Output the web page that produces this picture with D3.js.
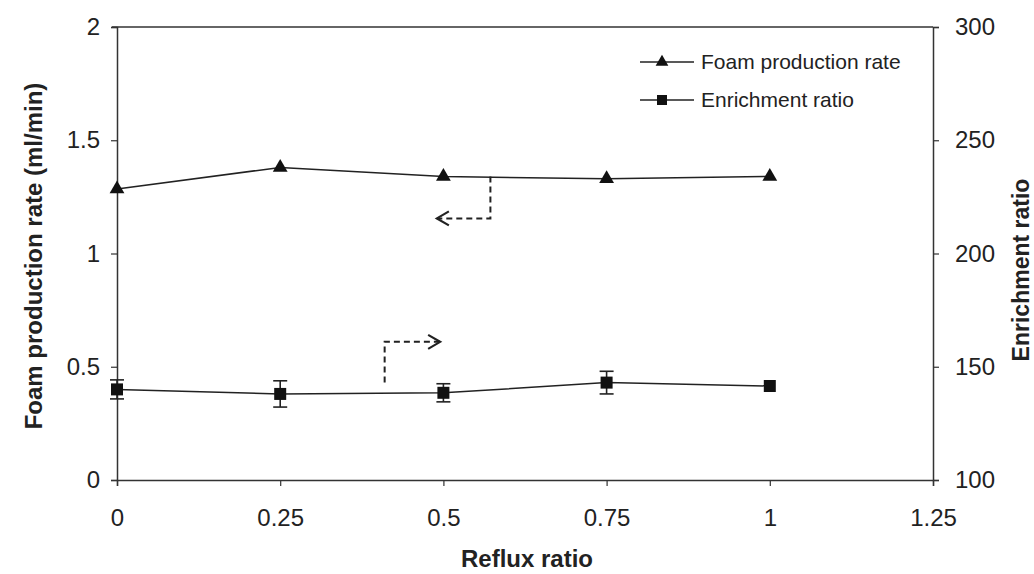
<!DOCTYPE html>
<html>
<head>
<meta charset="utf-8">
<script src="https://cdn.jsdelivr.net/npm/d3@7"></script>
<style>
  body { margin: 0; background: #fff; }
  text { font-family: "Liberation Sans", Arial, sans-serif; fill: #222; }
</style>
</head>
<body>
<svg id="chart" width="1034" height="574"></svg>
<script>
// reflux ratio values
var reflux = [0, 0.25, 0.5, 0.75, 1];
// foam production rate (ml/min), left axis
var foamRate = [1.285, 1.38, 1.34, 1.33, 1.34];
// enrichment ratio, right axis, with error (+/-)
var enrichment = [140, 138, 138.5, 143, 141.5];
var enrichErr = [4.2, 5.8, 4, 5, 0];

var xTicks = [0, 0.25, 0.5, 0.75, 1, 1.25];
var leftTicks = [0, 0.5, 1, 1.5, 2];
var rightTicks = [100, 150, 200, 250, 300];

// dashed arrows pointing to each series' axis, [x, y] in left-axis units
var arrowLeft = [[0.572, 1.34], [0.572, 1.155], [0.49, 1.155]];
var arrowRight = [[0.41, 0.43], [0.41, 0.61], [0.495, 0.61]];

var svg = d3.select("#chart");
var padL = 117, padR = 933, padT = 27, padB = 480;

var x = d3.scaleLinear().domain([0, 1.25]).range([padL, padR]);
var yL = d3.scaleLinear().domain([0, 2]).range([padB, padT]);
var yR = d3.scaleLinear().domain([100, 300]).range([padB, padT]);

// frame top line
svg.append("line").attr("x1", padL - 5).attr("x2", padR).attr("y1", padT).attr("y2", padT)
  .attr("stroke", "#333").attr("stroke-width", 1.5);

var ax = svg.append("g").attr("transform", "translate(0," + padB + ")")
  .call(d3.axisBottom(x).tickValues(xTicks).tickFormat(d3.format("")).tickSizeOuter(0).tickSize(6));
var al = svg.append("g").attr("transform", "translate(" + padL + ",0)")
  .call(d3.axisLeft(yL).tickValues(leftTicks).tickFormat(d3.format("")).tickSizeOuter(0).tickSize(6));
var ar = svg.append("g").attr("transform", "translate(" + padR + ",0)")
  .call(d3.axisRight(yR).tickValues(rightTicks).tickSizeOuter(0).tickSize(6));

[ax, al, ar].forEach(function (g) {
  g.select(".domain").attr("stroke", "#333").attr("stroke-width", 1.5);
  g.selectAll(".tick line").attr("stroke", "#333").attr("stroke-width", 1.2);
  g.selectAll(".tick text").style("font-size", "24px").attr("fill", "#222");
});
ax.selectAll(".tick text").attr("y", 0).attr("dy", 0)
  .attr("transform", "translate(0,46)");
al.selectAll(".tick text").attr("x", -17);
ar.selectAll(".tick text").attr("x", 22);

// axis titles
svg.append("text").text("Reflux ratio")
  .attr("x", 527).attr("y", 567).attr("text-anchor", "middle")
  .style("font-size", "24px").attr("font-weight", "bold");
svg.append("text").text("Foam production rate (ml/min)")
  .attr("transform", "translate(42," + 256 + ") rotate(-90)")
  .attr("text-anchor", "middle").style("font-size", "24px").attr("font-weight", "bold");
svg.append("text").text("Enrichment ratio")
  .attr("transform", "translate(1029," + 270 + ") rotate(-90)")
  .attr("text-anchor", "middle").style("font-size", "23px").attr("font-weight", "bold");

// foam series
var foam = reflux.map(function (r, i) { return [r, foamRate[i]]; });
svg.append("path").datum(foam)
  .attr("d", d3.line().x(function (d) { return x(d[0]); }).y(function (d) { return yL(d[1]); }))
  .attr("fill", "none").attr("stroke", "#222").attr("stroke-width", 1.5);
svg.selectAll(".tri").data(foam).enter().append("path")
  .attr("transform", function (d) { return "translate(" + x(d[0]) + "," + yL(d[1]) + ")"; })
  .attr("d", d3.symbol().type(d3.symbolTriangle).size(95))
  .attr("fill", "#111");

// enrichment series
var enr = reflux.map(function (r, i) { return [r, enrichment[i], enrichErr[i]]; });
svg.append("path").datum(enr)
  .attr("d", d3.line().x(function (d) { return x(d[0]); }).y(function (d) { return yR(d[1]); }))
  .attr("fill", "none").attr("stroke", "#222").attr("stroke-width", 1.5);
var eb = svg.selectAll(".err").data(enr.filter(function (d) { return d[2] > 0; })).enter().append("g")
  .attr("stroke", "#222").attr("stroke-width", 1.6);
eb.append("line")
  .attr("x1", function (d) { return x(d[0]); }).attr("x2", function (d) { return x(d[0]); })
  .attr("y1", function (d) { return yR(d[1] - d[2]); }).attr("y2", function (d) { return yR(d[1] + d[2]); });
eb.each(function (d) {
  var g = d3.select(this);
  [d[1] - d[2], d[1] + d[2]].forEach(function (v) {
    g.append("line").attr("x1", x(d[0]) - 7).attr("x2", x(d[0]) + 7)
      .attr("y1", yR(v)).attr("y2", yR(v));
  });
});
svg.selectAll(".sq").data(enr).enter().append("rect")
  .attr("x", function (d) { return x(d[0]) - 6; }).attr("y", function (d) { return yR(d[1]) - 6; })
  .attr("width", 12).attr("height", 12).attr("fill", "#111");

// dashed arrows
function arrow(pts) {
  svg.append("path").datum(pts)
    .attr("d", d3.line().x(function (d) { return x(d[0]); }).y(function (d) { return yL(d[1]); }))
    .attr("fill", "none").attr("stroke", "#222").attr("stroke-width", 2).attr("stroke-dasharray", "6,4");
  var a = pts[pts.length - 1], b = pts[pts.length - 2];
  var dir = x(a[0]) < x(b[0]) ? 1 : -1;
  var ex = x(a[0]), ey = yL(a[1]);
  svg.append("path")
    .attr("d", "M" + (ex + dir * 12) + "," + (ey - 7) + "L" + ex + "," + ey + "L" + (ex + dir * 12) + "," + (ey + 7))
    .attr("fill", "none").attr("stroke", "#222").attr("stroke-width", 2.2);
}
arrow(arrowLeft);
arrow(arrowRight);

// legend
var legend = [["Foam production rate", "tri"], ["Enrichment ratio", "sq"]];
var lg = svg.append("g");
legend.forEach(function (d, i) {
  var ly = 62 + i * 38;
  lg.append("line").attr("x1", 640).attr("x2", 694).attr("y1", ly).attr("y2", ly)
    .attr("stroke", "#222").attr("stroke-width", 1.5);
  if (d[1] == "tri") {
    lg.append("path").attr("transform", "translate(662," + ly + ")")
      .attr("d", d3.symbol().type(d3.symbolTriangle).size(70)).attr("fill", "#111");
  } else {
    lg.append("rect").attr("x", 657).attr("y", ly - 5).attr("width", 10).attr("height", 10).attr("fill", "#111");
  }
  lg.append("text").text(d[0]).attr("x", 701).attr("y", ly + 7).style("font-size", "21px");
});
</script>
</body>
</html>
